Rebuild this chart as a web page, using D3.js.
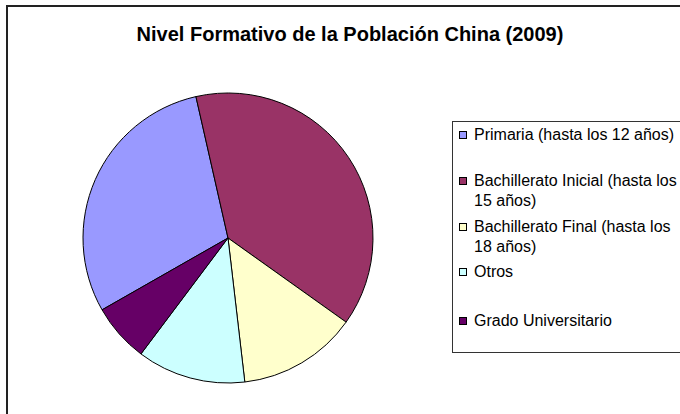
<!DOCTYPE html>
<html>
<head>
<meta charset="utf-8">
<script src="https://cdn.jsdelivr.net/npm/d3@7"></script>
<style>
  body { margin: 0; background: #fff; }
  svg { display: block; font-family: "Liberation Sans", Arial, sans-serif; }
</style>
</head>
<body>
<div id="chart"></div>
<script>
// data (percent of population)
let categories = ["Primaria (hasta los 12 años)", "Bachillerato Inicial (hasta los 15 años)",
    "Bachillerato Final (hasta los 18 años)", "Otros", "Grado Universitario"];
let values = [29.7, 38.4, 13.3, 12.1, 6.5];
let legend_lines = [["Primaria (hasta los 12 años)"], ["Bachillerato Inicial (hasta los", "15 años)"],
    ["Bachillerato Final (hasta los", "18 años)"], ["Otros"], ["Grado Universitario"]];
let colors = ["#9999ff", "#993366", "#ffffcc", "#ccffff", "#660066"];

let width = 680, height = 414;

let svg = d3.select("#chart")
    .append("svg")
    .attr("width", width)
    .attr("height", height);

// outer chart border (runs off the right and bottom edges)
svg.append("rect")
    .attr("x", 7).attr("y", 6)
    .attr("width", 720).attr("height", 460)
    .attr("fill", "#fff")
    .attr("stroke", "#222")
    .attr("stroke-width", 2);

svg.append("text")
    .attr("x", 350).attr("y", 41)
    .style("text-anchor", "middle")
    .style("font-size", "20px")
    .style("font-weight", "bold")
    .text("Nivel Formativo de la Población China (2009)");

let color = d3.scaleOrdinal().domain(categories).range(colors);

// first slice starts lower-left, slices go clockwise
let start = 240.3 * Math.PI / 180;
let pie = d3.pie().sort(null).value(d => d.value)
    .startAngle(start).endAngle(start + 2 * Math.PI);

let arc = d3.arc().innerRadius(0).outerRadius(145);

let data = categories.map((c, i) => ({ cat: c, value: values[i] }));

let g = svg.append("g").attr("transform", "translate(228, 238)");
g.selectAll("path")
    .data(pie(data))
    .enter()
    .append("path")
    .attr("d", arc)
    .attr("fill", d => color(d.data.cat))
    .attr("stroke", "#000")
    .attr("stroke-width", 1);

// legend
svg.append("rect")
    .attr("x", 452.5).attr("y", 121.5)
    .attr("width", 260).attr("height", 231)
    .attr("fill", "#fff")
    .attr("stroke", "#333")
    .attr("stroke-width", 1);

let legend_y = [140, 186, 232, 277, 326];
let item = svg.selectAll(".item")
    .data(data)
    .enter()
    .append("g")
    .attr("class", "item")
    .attr("transform", (d, i) => `translate(459, ${legend_y[i]})`);

item.append("rect")
    .attr("x", 0.5).attr("y", -8.5)
    .attr("width", 7).attr("height", 7)
    .attr("fill", d => color(d.cat))
    .attr("stroke", "#000")
    .attr("stroke-width", 1);

item.append("text")
    .attr("x", 15)
    .style("font-size", "16px")
    .selectAll("tspan")
    .data((d, i) => legend_lines[i])
    .enter()
    .append("tspan")
    .attr("x", 15)
    .attr("dy", (d, j) => j == 0 ? 0 : 20)
    .text(d => d);
</script>
</body>
</html>
